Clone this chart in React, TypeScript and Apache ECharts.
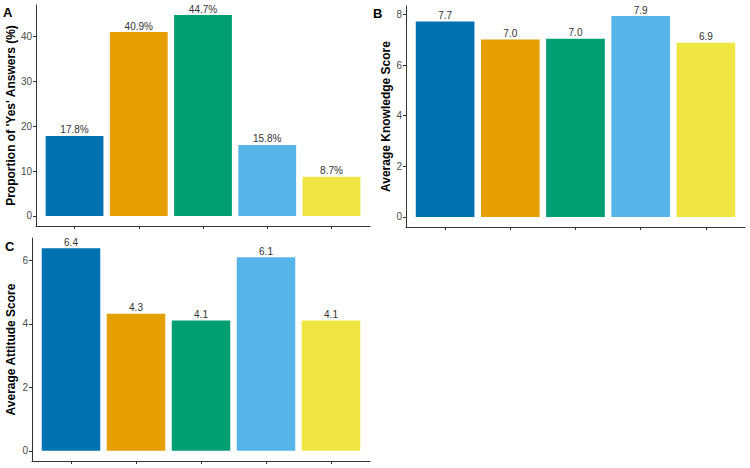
import React, { useEffect, useRef } from "react";
import * as echarts from "echarts";

const groupPositions = [1, 2, 3, 4, 5];
const barColors = ["#0072B2", "#E69F00", "#009E73", "#56B4E9", "#F0E442"];
const yesPct = [17.8, 40.9, 44.7, 15.8, 8.7];
const knowledgeScore = [7.72, 7.01, 7.04, 7.94, 6.88];
const attitudeScore = [6.39, 4.32, 4.11, 6.1, 4.11];
const ticksA = [0, 10, 20, 30, 40];
const ticksB = [0, 2, 4, 6, 8];
const ticksC = [0, 2, 4, 6];
const titles = ["Proportion of 'Yes' Answers (%)", "Average Knowledge Score", "Average Attitude Score"];
const panelLetters = ["A", "B", "C"];

const FONT = "'Liberation Sans', Arial, sans-serif";

export default function App() {
  const ref = useRef<HTMLDivElement>(null);
  useEffect(() => {
    document.body.style.margin = "0";
    const chart = echarts.init(ref.current!, undefined, { renderer: "svg" });
    const grids = [
      { left: 36, right: 380, top: 5, bottom: 242 },
      { left: 406, right: 5, top: 6, bottom: 241 },
      { left: 32, right: 380, top: 238, bottom: 7 },
    ];
    const datasets = [yesPct, knowledgeScore, attitudeScore];
    const ticks = [ticksA, ticksB, ticksC];
    const nameGaps = [19, 14, 15];
    const suffix = ["%", "", ""];
    const axisColor = "#333333";

    const xAxes = grids.map((_, i) => ({
      type: "value",
      gridIndex: i,
      min: 0.4,
      max: 5.6,
      splitLine: { show: false },
      axisLine: { show: true, onZero: false, lineStyle: { color: axisColor, width: 1 } },
      axisTick: { show: true, length: 3, customValues: groupPositions, lineStyle: { color: axisColor } },
      axisLabel: { show: false },
    }));
    const yAxes = datasets.map((vals, i) => {
      const mx = Math.max(...vals);
      return {
        type: "value",
        gridIndex: i,
        min: -0.05 * mx,
        max: 1.05 * mx,
        splitLine: { show: false },
        axisLine: { show: true, onZero: false, lineStyle: { color: axisColor, width: 1 } },
        axisTick: { show: true, length: 3, customValues: ticks[i], lineStyle: { color: axisColor } },
        axisLabel: { customValues: ticks[i], color: "#4D4D4D", fontSize: 10, fontFamily: FONT, margin: 4 },
        name: titles[i],
        nameLocation: "middle",
        nameGap: nameGaps[i],
        nameTextStyle: { fontSize: 12, fontWeight: "bold", color: "#000", fontFamily: FONT },
      };
    });
    const series = datasets.map((vals, i) => {
      const g = grids[i];
      const w = 750 - g.left - g.right;
      return {
        type: "bar",
        xAxisIndex: i,
        yAxisIndex: i,
        barWidth: (0.9 * w) / 5.2,
        data: vals.map((v, j) => ({ value: [groupPositions[j], v], itemStyle: { color: barColors[j] } })),
        label: {
          show: true,
          position: "top",
          distance: 1,
          color: "#333333",
          fontSize: 10,
          fontFamily: FONT,
          formatter: (p: any) => p.value[1].toFixed(1) + suffix[i],
        },
      };
    });
    const letterPos = [
      [3, 6],
      [373, 7],
      [5, 240],
    ];
    chart.setOption({
      animation: false,
      grid: grids,
      xAxis: xAxes,
      yAxis: yAxes,
      series,
      graphic: panelLetters.map((t, i) => ({
        type: "text",
        x: letterPos[i][0],
        y: letterPos[i][1],
        style: { text: t, fontSize: 13, fontWeight: "bold", fill: "#000", fontFamily: FONT },
      })),
    });
    return () => chart.dispose();
  }, []);
  return <div ref={ref} style={{ width: 750, height: 468 }} />;
}
